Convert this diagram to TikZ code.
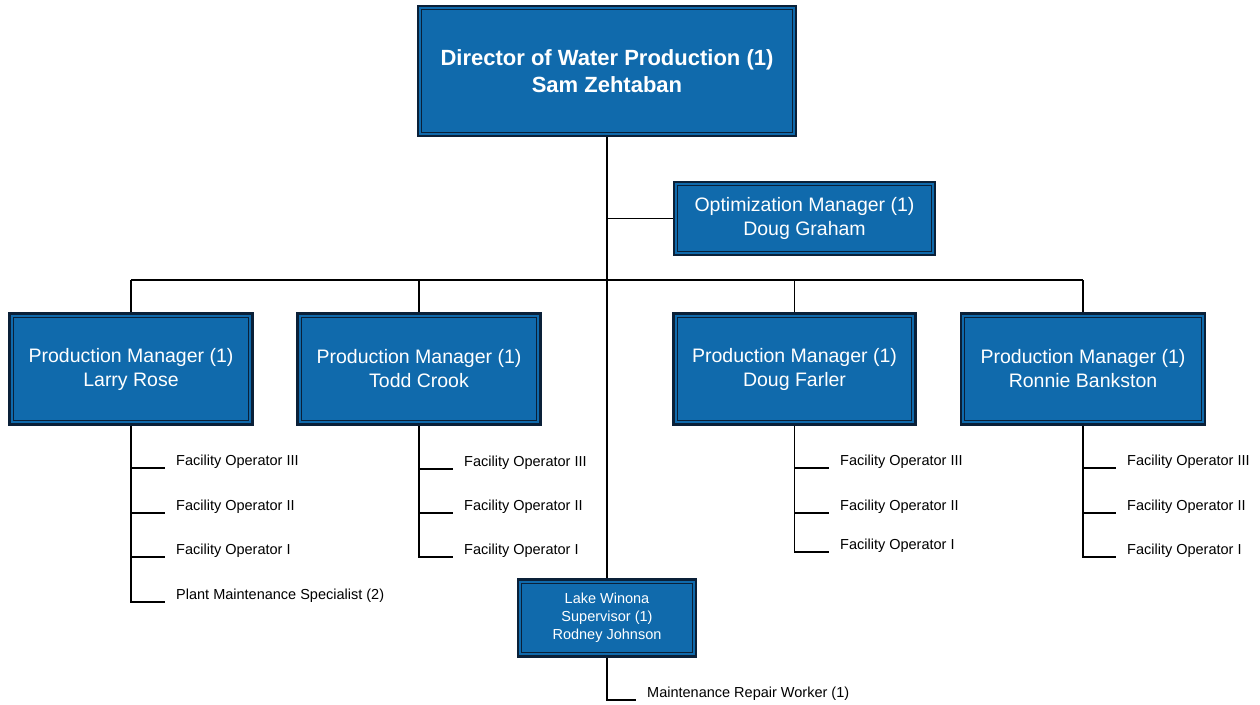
\documentclass[tikz,border=0pt]{standalone}
\usepackage{fontspec}
\setmainfont{Liberation Sans}
\begin{document}
\definecolor{boxblue}{RGB}{16,106,172}
\definecolor{boxline}{RGB}{10,32,56}
\begin{tikzpicture}[x=1pt,y=-1pt,
  box/.style={draw=boxline, line width=2.4pt, fill=boxblue, text=white,
    align=center, inner sep=0pt, anchor=center,
    path picture={\draw[boxline, line width=1pt]
      ([shift={(3.6pt,-3.6pt)}]path picture bounding box.north west) rectangle
      ([shift={(-3.6pt,3.6pt)}]path picture bounding box.south east);}},
  topbox/.style={box, font=\bfseries\fontsize{22}{27}\selectfont},
  midbox/.style={box, font=\fontsize{19.5}{24}\selectfont},
  smallbox/.style={box, font=\fontsize{14.5}{18}\selectfont},
  item/.style={anchor=base west, inner sep=0pt, font=\fontsize{14.5}{17}\selectfont},
  link/.style={draw=black, line width=1.3pt},
]
\useasboundingbox (0,0) rectangle (1260,704);

% boxes
\node[topbox, minimum width=378pt, minimum height=130pt] (dir) at (607,71)
  {Director of Water Production (1)\\Sam Zehtaban};
\node[midbox, minimum width=261pt, minimum height=73pt] (opt) at (804.5,218.5)
  {Optimization Manager (1)\\Doug Graham};
\node[midbox, minimum width=243pt, minimum height=111pt] (pm1) at (131,369)
  {Production Manager (1)\\Larry Rose};
\node[midbox, minimum width=243pt, minimum height=111pt] (pm2) at (419,369)
  {Production Manager (1)\\Todd Crook};
\node[midbox, minimum width=242pt, minimum height=111pt] (pm3) at (794.5,369)
  {Production Manager (1)\\Doug Farler};
\node[midbox, minimum width=244pt, minimum height=111pt] (pm4) at (1083,369)
  {Production Manager (1)\\Ronnie Bankston};
\node[smallbox, minimum width=178pt, minimum height=77pt] (lake) at (607,618)
  {Lake Winona\\Supervisor (1)\\Rodney Johnson};

% bus joining the production managers
\coordinate (bus) at (607,280);
\draw[link] (pm1.north |- bus) -- (pm4.north |- bus);
\foreach \p in {pm1,pm2,pm3,pm4}
  \draw[link] (\p.north) -- (\p.north |- bus);
\draw[link] (dir.south) -- (lake.north);
\draw[link] (opt.west) -- (opt.west -| dir.south);

% staff lists
\node[item] (a1) at (176,465) {Facility Operator III};
\node[item] (a2) at (176,510) {Facility Operator II};
\node[item] (a3) at (176,554) {Facility Operator I};
\node[item] (a4) at (176,599) {Plant Maintenance Specialist (2)};
\node[item] (b1) at (464,466) {Facility Operator III};
\node[item] (b2) at (464,510) {Facility Operator II};
\node[item] (b3) at (464,554) {Facility Operator I};
\node[item] (c1) at (840,465) {Facility Operator III};
\node[item] (c2) at (840,510) {Facility Operator II};
\node[item] (c3) at (840,549) {Facility Operator I};
\node[item] (d1) at (1127,465) {Facility Operator III};
\node[item] (d2) at (1127,510) {Facility Operator II};
\node[item] (d3) at (1127,554) {Facility Operator I};
\node[item] (e1) at (647,697) {Maintenance Repair Worker (1)};

\foreach \p/\last/\others in {pm1/a4/{a1,a2,a3}, pm2/b3/{b1,b2}, pm3/c3/{c1,c2}, pm4/d3/{d1,d2}, lake/e1/{}}{
  \draw[link] (\p.south) |- ([shift={(-11pt,-3pt)}]\last.base west);
  \foreach \q in \others
    \draw[link] (\p.south |- \q.base) ++(0pt,-3pt) -- ([shift={(-11pt,-3pt)}]\q.base west);
}
\end{tikzpicture}
\end{document}
